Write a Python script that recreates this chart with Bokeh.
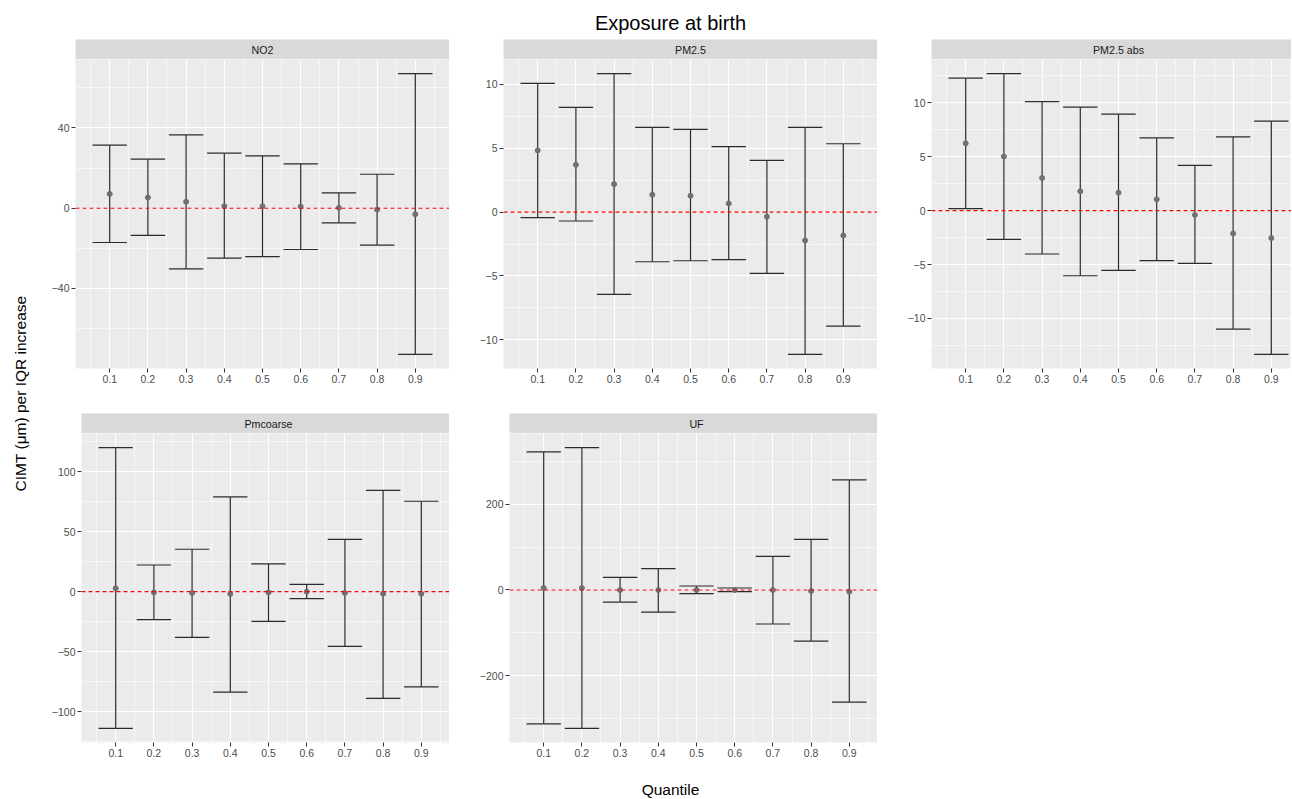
from math import pi
from bokeh.plotting import figure
from bokeh.models import Range1d, FixedTicker, Span
from bokeh.layouts import row, column
from bokeh.core.properties import value
from bokeh.embed import file_html
from bokeh.resources import INLINE

FONT = "Liberation Sans"

# ---------------- data ----------------
quantiles = [0.1, 0.2, 0.3, 0.4, 0.5, 0.6, 0.7, 0.8, 0.9]
quantile_labels = ["0.1", "0.2", "0.3", "0.4", "0.5", "0.6", "0.7", "0.8", "0.9"]

no2_est = [7.1, 5.3, 3.2, 1.0, 1.0, 0.8, 0.2, -0.7, -3.0]
no2_lo = [-17.1, -13.6, -30.2, -24.9, -24.1, -20.6, -7.3, -18.4, -72.9]
no2_hi = [31.4, 24.4, 36.5, 27.4, 26.1, 22.1, 7.6, 16.9, 67.1]

pm25_est = [4.83, 3.70, 2.19, 1.36, 1.28, 0.68, -0.37, -2.22, -1.83]
pm25_lo = [-0.44, -0.70, -6.45, -3.89, -3.81, -3.73, -4.80, -11.15, -8.93]
pm25_hi = [10.08, 8.20, 10.85, 6.63, 6.48, 5.12, 4.05, 6.63, 5.35]

pm25abs_est = [6.25, 5.02, 3.03, 1.80, 1.67, 1.05, -0.40, -2.11, -2.54]
pm25abs_lo = [0.19, -2.66, -4.02, -6.04, -5.54, -4.64, -4.89, -10.99, -13.34]
pm25abs_hi = [12.29, 12.72, 10.12, 9.60, 8.95, 6.75, 4.21, 6.84, 8.30]

pmcoarse_est = [2.8, -0.6, -1.1, -1.9, -0.6, 0.0, -1.1, -1.7, -1.7]
pmcoarse_lo = [-113.9, -23.3, -38.1, -83.6, -24.7, -5.8, -45.6, -88.9, -79.2]
pmcoarse_hi = [120.0, 22.2, 35.3, 78.9, 23.1, 6.1, 43.6, 84.4, 75.3]

uf_est = [4.7, 4.7, 0.0, 0.0, 0.0, 0.0, 0.0, -2.3, -3.9]
uf_lo = [-311.5, -322.3, -28.0, -51.3, -8.5, -3.9, -79.2, -118.8, -261.0]
uf_hi = [321.5, 331.6, 29.5, 49.7, 9.3, 4.7, 78.4, 118.0, 256.3]

no2_ticks = [-40, 0, 40]
no2_minor = [-60, -20, 20, 60]
pm25_ticks = [-10, -5, 0, 5, 10]
pm25_minor = [-12.5, -7.5, -2.5, 2.5, 7.5, 12.5]
pmcoarse_ticks = [-100, -50, 0, 50, 100]
pmcoarse_minor = [-125, -75, -25, 25, 75, 125]
uf_ticks = [-200, 0, 200]
uf_minor = [-300, -100, 100, 300]
x_minor = [0.05, 0.15, 0.25, 0.35, 0.45, 0.55, 0.65, 0.75, 0.85, 0.95]

title_text = "Exposure at birth"
ylab_text = "CIMT (μm) per IQR increase"
xlab_text = "Quantile"

# ---------------- styling / geometry ----------------
CAP_HALF = 0.045
FRAME_H = 309
FULL_W = 374
TITLE_H = 39
STRIP_H = 20
ROW1_BOTTOM = 45
ROW2_BOTTOM = 28
XLAB_H = 28
YLAB_W = 30


def text_fig(w, h):
    f = figure(width=w, height=h, x_range=Range1d(0, w), y_range=Range1d(0, h),
               x_axis_type=None, y_axis_type=None, toolbar_location=None,
               output_backend="svg", min_border_left=0, min_border_right=0,
               min_border_top=0, min_border_bottom=0, outline_line_color=None,
               background_fill_color="white", border_fill_color="white")
    f.grid.visible = False
    return f


def strip(name, left, fw):
    f = figure(frame_width=fw, frame_height=STRIP_H, x_range=Range1d(0, 1), y_range=Range1d(0, 1),
               x_axis_type=None, y_axis_type=None, toolbar_location=None,
               output_backend="svg", min_border_left=left, min_border_right=0,
               min_border_top=0, min_border_bottom=0, outline_line_color=None,
               background_fill_color="#D9D9D9", border_fill_color="white")
    f.grid.visible = False
    cx = 0.5 * FULL_W / fw
    f.text(x=[cx], y=[0.5], text=[name], text_align="center", text_baseline="middle",
           text_font=value(FONT), text_font_size="10.7px", text_color="#1A1A1A")
    return f


def panel(est, lo, hi, ticks, minor, left, fw, bottom):
    xmin = min(quantiles) - CAP_HALF
    xmax = max(quantiles) + CAP_HALF
    xpad = 0.05 * (xmax - xmin)
    x0 = xmin - xpad
    x1 = x0 + (xmax + xpad - x0) * fw / FULL_W
    ymin, ymax = min(lo), max(hi)
    ypad = 0.05 * (ymax - ymin)
    f = figure(frame_width=fw, frame_height=FRAME_H,
               x_range=Range1d(x0, x1), y_range=Range1d(ymin - ypad, ymax + ypad),
               toolbar_location=None, output_backend="svg",
               min_border_left=left, min_border_right=0, min_border_top=0,
               min_border_bottom=bottom, outline_line_color=None,
               background_fill_color="#EBEBEB", border_fill_color="white")
    f.xaxis.ticker = FixedTicker(ticks=quantiles, minor_ticks=x_minor)
    f.xaxis.major_label_overrides = {q: l for q, l in zip(quantiles, quantile_labels)}
    f.yaxis.ticker = FixedTicker(ticks=ticks, minor_ticks=minor)
    for ax in f.axis:
        ax.axis_line_color = None
        ax.major_tick_line_color = "#333333"
        ax.major_tick_line_width = 1
        ax.major_tick_out = 4
        ax.major_tick_in = 0
        ax.minor_tick_out = 0
        ax.minor_tick_in = 0
        ax.minor_tick_line_color = None
        ax.major_label_text_color = "#4D4D4D"
        ax.major_label_text_font = FONT
        ax.major_label_text_font_size = "10.5px"
        ax.major_label_standoff = 2
    for g in f.grid:
        g.grid_line_color = "white"
        g.grid_line_width = 1.1
        g.minor_grid_line_color = "white"
        g.minor_grid_line_width = 0.55
    f.segment(x0=quantiles, y0=lo, x1=quantiles, y1=hi, line_color="#2b2b2b", line_width=1.2)
    f.segment(x0=[q - CAP_HALF for q in quantiles], y0=hi,
              x1=[q + CAP_HALF for q in quantiles], y1=hi, line_color="#2b2b2b", line_width=1.2)
    f.segment(x0=[q - CAP_HALF for q in quantiles], y0=lo,
              x1=[q + CAP_HALF for q in quantiles], y1=lo, line_color="#2b2b2b", line_width=1.2)
    f.scatter(x=quantiles, y=est, size=5, color="#707070")
    f.add_layout(Span(location=0, dimension="width", line_color="red",
                      line_dash="4 3", line_width=1.1))
    return f


# frame left edges on the page: row 1 at 75, 503, 931; row 2 at 81, 509
b1, b4 = 45, 51          # after the 30px y-label strip
b2, b5 = 54, 60
b3 = 54
fw3 = 360
TOTAL_W = YLAB_W + (b1 + FULL_W) + (b2 + FULL_W) + (b3 + fw3)

# title
tfig = text_fig(TOTAL_W, TITLE_H)
tfig.text(x=[670], y=[TITLE_H - 22], text=[title_text], text_align="center",
          text_baseline="middle", text_font=value(FONT), text_font_size="20px",
          text_color="black")

# row 1
s1 = strip("NO2", b1, FULL_W)
p1 = panel(no2_est, no2_lo, no2_hi, no2_ticks, no2_minor, b1, FULL_W, ROW1_BOTTOM)
s2 = strip("PM2.5", b2, FULL_W)
p2 = panel(pm25_est, pm25_lo, pm25_hi, pm25_ticks, pm25_minor, b2, FULL_W, ROW1_BOTTOM)
s3 = strip("PM2.5 abs", b3, fw3)
p3 = panel(pm25abs_est, pm25abs_lo, pm25abs_hi, pm25_ticks, pm25_minor, b3, fw3, ROW1_BOTTOM)

# row 2
s4 = strip("Pmcoarse", b4, 368)
p4 = panel(pmcoarse_est, pmcoarse_lo, pmcoarse_hi, pmcoarse_ticks, pmcoarse_minor, b4, 368, ROW2_BOTTOM)
s5 = strip("UF", b5, 368)
p5 = panel(uf_est, uf_lo, uf_hi, uf_ticks, uf_minor, b5, 368, ROW2_BOTTOM)

BODY_H = STRIP_H + FRAME_H + ROW1_BOTTOM + STRIP_H + FRAME_H + ROW2_BOTTOM
yfig = text_fig(YLAB_W, BODY_H)
yfig.text(x=[20], y=[BODY_H - (393 - TITLE_H)], text=[ylab_text], angle=pi / 2,
          text_align="center", text_baseline="middle", text_font=value(FONT),
          text_font_size="15.5px", text_color="black")

xfig = text_fig(TOTAL_W, XLAB_H)
xfig.text(x=[670], y=[9], text=[xlab_text], text_align="center",
          text_baseline="middle", text_font=value(FONT), text_font_size="15.5px",
          text_color="black")

grid_block = column(row(s1, s2, s3), row(p1, p2, p3), row(s4, s5), row(p4, p5))
body = row(yfig, grid_block)
root = column(tfig, body, xfig)

open("out.html", "w").write(file_html(root, INLINE))
